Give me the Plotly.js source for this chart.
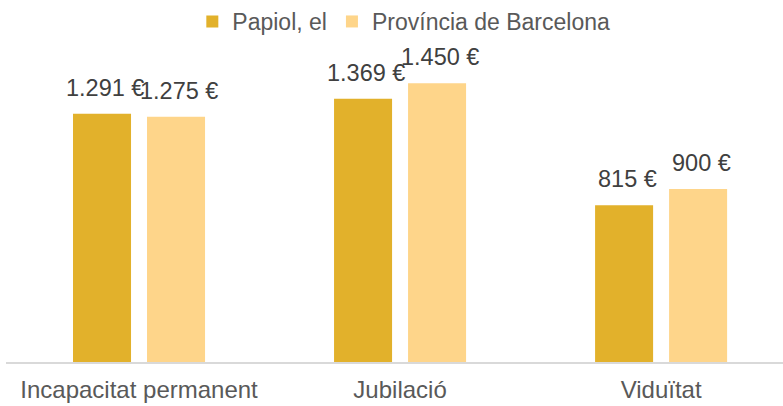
<!DOCTYPE html>
<html><head><meta charset="utf-8">
<script src="https://cdn.plot.ly/plotly-3.0.1.min.js"></script>
<style>html,body{margin:0;padding:0;background:#fff}</style>
</head><body>
<div id="chart" style="width:783px;height:406px"></div>
<script>
const categories = ["Incapacitat permanent", "Jubilació", "Viduïtat"];
const papiol = [1291, 1369, 815];
const barcelona = [1275, 1450, 900];
const seriesNames = ["Papiol, el", "Província de Barcelona"];
const fmt = v => v.toLocaleString('de-DE') + ' €';

const colors = ["#E2B12B", "#FED58A"];
const traces = [papiol, barcelona].map((vals, i) => ({
  type: 'bar', x: categories, y: vals, name: seriesNames[i],
  marker: {color: colors[i]}, hoverinfo: 'none'
}));

const offs = [-0.1418, 0.1418];
const annotations = [];
[papiol, barcelona].forEach((vals, s) => {
  vals.forEach((v, i) => {
    annotations.push({x: i + offs[s], y: v, xref: 'x', yref: 'y', text: fmt(v),
      showarrow: false, yanchor: 'bottom', yshift: 11, xshift: 3,
      font: {family: 'Liberation Sans, Arial, sans-serif', size: 23.5, color: '#404040'}});
  });
});

const layout = {
  width: 783, height: 406,
  margin: {l: 6, r: 0, t: 50, b: 44},
  paper_bgcolor: '#fff', plot_bgcolor: '#fff',
  barmode: 'group', bargap: 0.433, bargroupgap: 0.216,
  showlegend: true,
  legend: {orientation: 'h', x: 0.512, xanchor: 'center', y: 1.096, yanchor: 'middle',
    font: {family: 'Liberation Sans, Arial, sans-serif', size: 23, color: '#595959'}},
  xaxis: {type: 'category', range: [-0.5096, 2.467], showgrid: false, showline: true,
    linecolor: '#D9D9D9', linewidth: 1.5, ticks: '', ticklabelstandoff: 6,
    tickfont: {family: 'Liberation Sans, Arial, sans-serif', size: 24, color: '#595959'}},
  yaxis: {range: [0, 1617.5], visible: false, showgrid: false, zeroline: false},
  annotations: annotations
};
Plotly.newPlot('chart', traces, layout, {displayModeBar: false, staticPlot: true});
</script>
</body></html>
